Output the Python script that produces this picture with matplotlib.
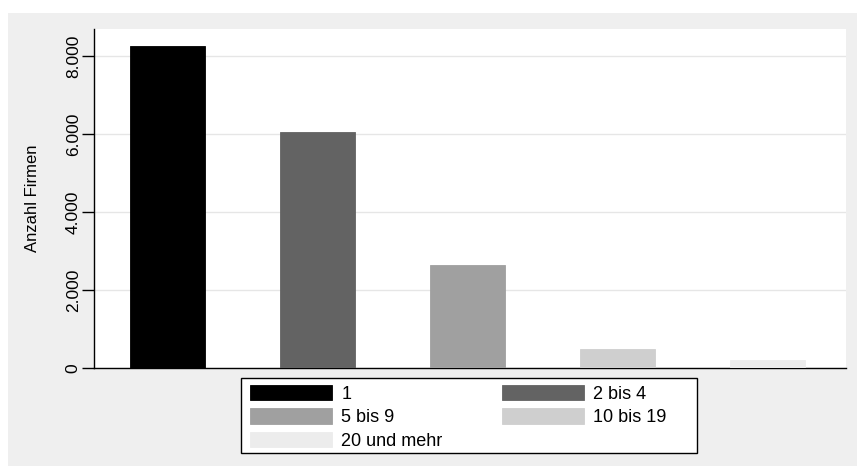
import matplotlib.pyplot as plt
from matplotlib.patches import Rectangle
from matplotlib.ticker import FuncFormatter

categories = ['1', '2 bis 4', '5 bis 9', '10 bis 19', '20 und mehr']
counts = [8270, 6050, 2640, 500, 210]
colors = ['#000000', '#636363', '#a0a0a0', '#cfcfcf', '#ececec']
yticks = [0, 2000, 4000, 6000, 8000]

plt.rcParams['font.family'] = ['Liberation Sans', 'DejaVu Sans']

W, H = 857, 466
fig = plt.figure(figsize=(W / 100, H / 100), dpi=100)
fig.patch.set_facecolor('white')

# gray graph region (Stata style), behind everything
fig.patches.append(Rectangle((8 / W, 0), 1 - 8 / W, 1 - 13 / H, transform=fig.transFigure,
                             facecolor='#efefef', edgecolor='none', zorder=-10))

ax = fig.add_axes([94 / W, 1 - 368.3 / H, (846 - 94) / W, (368.3 - 29) / H])
ax.set_zorder(1)
ax.set_facecolor('white')

x = list(range(len(categories)))
bars = ax.bar(x, counts, width=0.5, color=colors, edgecolor=colors, linewidth=0.6, zorder=3)

ax.set_xlim(-0.49, 4.52)
ax.set_ylim(0, 8700)
ax.set_yticks(yticks)
ax.yaxis.set_major_formatter(FuncFormatter(lambda v, p: f'{int(v):,}'.replace(',', '.')))
ax.set_xticks([])
ax.grid(axis='y', color='#e6e6e6', linewidth=1, zorder=0)

for side in ['top', 'right']:
    ax.spines[side].set_visible(False)
ax.spines['left'].set_linewidth(1.0)
ax.spines['bottom'].set_linewidth(1.0)

ax.tick_params(axis='y', length=9, width=1, pad=0.5, labelsize=12.5)
for lbl in ax.get_yticklabels():
    lbl.set_rotation(90)
    lbl.set_va('center')

ax.set_ylabel('Anzahl Firmen', fontsize=12)
ax.yaxis.set_label_coords(-(94 - 40) / (846 - 94), 0.5)

# legend box, then a frameless legend inside it
fig.patches.append(Rectangle((241 / W, 1 - 453 / H), (697 - 241) / W, (453 - 378) / H,
                             transform=fig.transFigure, facecolor='white',
                             edgecolor='black', linewidth=1.0, zorder=2))
# the reference fills the legend row-wise; matplotlib fills columns
order = [0, 2, 4, 1, 3]
leg = fig.legend([bars[i] for i in order], [categories[i] for i in order], ncol=2,
                 loc='upper left', bbox_to_anchor=(250 / W, 1 - 385 / H),
                 bbox_transform=fig.transFigure, fontsize=13, frameon=False,
                 handlelength=4.55, handleheight=0.94, handletextpad=0.5,
                 labelspacing=0.3, borderpad=0, borderaxespad=0, columnspacing=3.3)
leg.set_zorder(3)

fig.savefig('out.png', dpi=100)
